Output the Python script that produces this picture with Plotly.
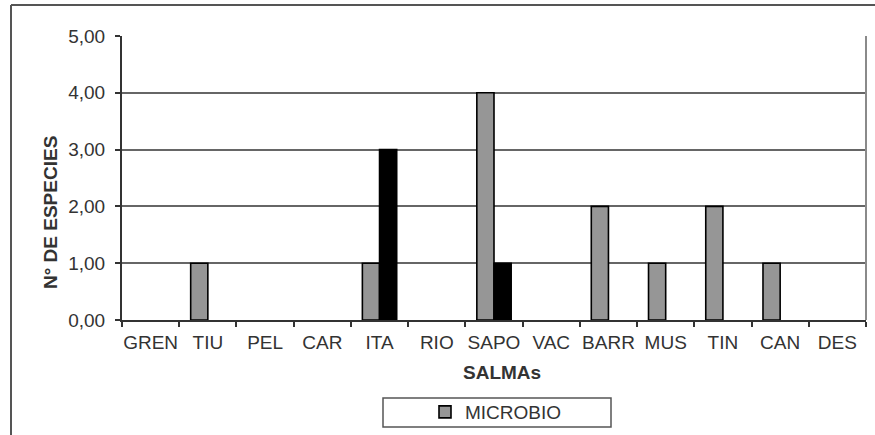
import plotly.graph_objects as go

categorias = ["GREN", "TIU", "PEL", "CAR", "ITA", "RIO", "SAPO", "VAC", "BARR", "MUS", "TIN", "CAN", "DES"]
microbio = [None, 1, None, None, 1, None, 4, None, 2, 1, 2, 1, None]
serie_negra = [None, None, None, None, 3, None, 1, None, None, None, None, None, None]
y_ticks = [0, 1, 2, 3, 4, 5]
y_ticklabels = ["0,00", "1,00", "2,00", "3,00", "4,00", "5,00"]

W, H = 875, 435
L, R, T, B = 122, 866, 36, 320


def px(x):
    return (x - L) / (R - L)


def py(y):
    return (B - y) / (B - T)


FONT = "Liberation Sans, Arial, sans-serif"
TXT = "#333333"
FS = 19

fig = go.Figure()
fig.add_trace(go.Bar(
    x=categorias, y=microbio, name="MICROBIO",
    marker=dict(color="#969696", line=dict(color="#000000", width=1.6)),
    showlegend=True,
))
fig.add_trace(go.Bar(
    x=categorias, y=serie_negra, name=" ",
    marker=dict(color="#000000", line=dict(color="#000000", width=1.6)),
    showlegend=False,
))

shapes = [
    dict(type="line", xref="paper", yref="paper", x0=px(11), x1=px(875), y0=py(5), y1=py(5),
         line=dict(color="#555555", width=2)),
    dict(type="line", xref="paper", yref="paper", x0=px(11), x1=px(11), y0=py(5), y1=py(436),
         line=dict(color="#555555", width=2)),
    dict(type="line", xref="paper", yref="paper", x0=1, x1=1, y0=0, y1=1,
         line=dict(color="#8a8a8a", width=2)),
    dict(type="rect", xref="paper", yref="paper", x0=px(383), x1=px(611), y0=py(398), y1=py(427),
         line=dict(color="#555555", width=1.5), fillcolor="rgba(0,0,0,0)"),
]

annotations = [
    dict(text="<b>SALMAs</b>", xref="paper", yref="paper", x=px(502), y=py(372),
         xanchor="center", yanchor="middle", showarrow=False,
         font=dict(family=FONT, size=FS, color=TXT)),
    dict(text="<b>N° DE ESPECIES</b>", xref="paper", yref="paper", x=px(51), y=py(213),
         xanchor="center", yanchor="middle", showarrow=False, textangle=-90,
         font=dict(family=FONT, size=FS, color=TXT)),
]

fig.update_layout(
    width=W, height=H,
    margin=dict(l=L, r=W - R, t=T, b=H - B, pad=0, autoexpand=False),
    paper_bgcolor="white", plot_bgcolor="white",
    barmode="group", bargap=0.4, bargroupgap=0,
    separators=",.",
    font=dict(family=FONT, size=FS, color=TXT),
    showlegend=True,
    legend=dict(x=px(496), y=py(412), xanchor="center", yanchor="middle",
                bgcolor="rgba(0,0,0,0)", borderwidth=0,
                font=dict(family=FONT, size=FS, color=TXT)),
    shapes=shapes,
    annotations=annotations,
)

fig.update_xaxes(
    type="category", categoryorder="array", categoryarray=categorias,
    tickson="boundaries", ticks="outside", ticklen=5, tickwidth=1.5, tickcolor="#333333",
    tickangle=0, automargin=False, ticklabelstandoff=4,
    showline=True, linecolor="#333333", linewidth=2,
    showgrid=False,
    tickfont=dict(family=FONT, size=FS, color=TXT),
)
fig.update_yaxes(
    range=[0, 5], tickvals=y_ticks, ticktext=y_ticklabels,
    ticks="outside", ticklen=5, tickwidth=1.5, tickcolor="#333333",
    automargin=False, ticklabelstandoff=6,
    showline=True, linecolor="#333333", linewidth=2,
    showgrid=True, gridcolor="#666666", gridwidth=1.5,
    zeroline=False,
    tickfont=dict(family=FONT, size=FS, color=TXT),
)

fig.write_html(
    "out.html",
    config={"displayModeBar": False},
    post_script="document.body.style.margin='0';document.body.style.overflow='hidden';",
)
